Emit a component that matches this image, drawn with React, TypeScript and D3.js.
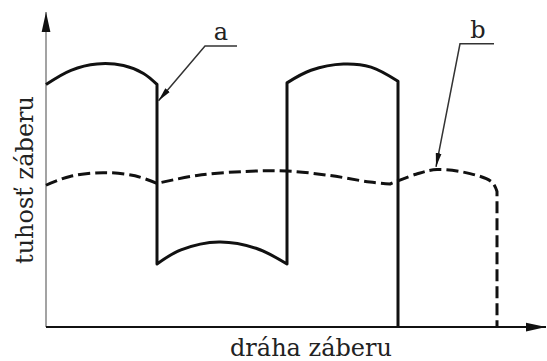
import React from "react";
import * as d3 from "d3";

type P = [number, number];

// Solid curve "a" (x: dráha záberu, y: tuhosť záberu), arbitrary units 0..100
const curveA_arc1: P[] = [[0, 77], [5, 81.5], [10.2, 83.5], [15.5, 83], [19.5, 80.5], [22.2, 77]];
const curveA_arc2: P[] = [[22.2, 20], [27, 24.5], [34.6, 27], [42, 25], [48.2, 20]];
const curveA_arc3: P[] = [[48.2, 77.5], [53, 81.5], [59.5, 83.5], [65, 82.5], [70.4, 78]];
const curveA_end: P[] = [[70.4, 78], [70.4, 0]];

// Dashed curve "b"
const curveB_arc1: P[] = [[0, 45], [4.8, 47.8], [11.4, 49], [17.8, 48], [22.2, 45.6]];
const curveB_arc2: P[] = [[22.2, 45.6], [30.2, 48.1], [40, 49.4], [48.2, 49.5], [56.8, 48.1], [64.8, 46], [68.8, 45.4]];
const curveB_arc3: P[] = [[68.8, 45.4], [74, 48.5], [78.2, 50], [84.8, 48.7], [89.2, 46], [90.2, 43]];
const curveB_end: P[] = [[90.2, 43], [90.2, 0]];

// Annotations
const leaderA: P[] = [[38.2, 89.2], [31.8, 89.2], [22.5, 71.8]];
const leaderB: P[] = [[89.6, 89.9], [82.8, 89.9], [78, 50.8]];
const labelA = { text: "a", pos: [35, 91.1] as P };
const labelB = { text: "b", pos: [86.4, 91.8] as P };
const xLabel = "dráha záberu";
const yLabel = "tuhosť záberu";

const W = 547;
const H = 361;

export default function App() {
  const x = d3.scaleLinear().domain([0, 100]).range([46, 546]);
  const y = d3.scaleLinear().domain([0, 100]).range([327, 12]);

  const curved = d3
    .line<P>()
    .x((d) => x(d[0]))
    .y((d) => y(d[1]))
    .curve(d3.curveCatmullRom.alpha(0.5));
  const straight = d3
    .line<P>()
    .x((d) => x(d[0]))
    .y((d) => y(d[1]));

  const join = (parts: { pts: P[]; c: boolean }[]) =>
    parts
      .map((p, i) => {
        const s = (p.c ? curved : straight)(p.pts) || "";
        return i === 0 ? s : s.replace(/^M/, "L");
      })
      .join("");

  const pathA = join([
    { pts: curveA_arc1, c: true },
    { pts: curveA_arc2, c: true },
    { pts: curveA_arc3, c: true },
    { pts: curveA_end, c: false },
  ]);
  const pathB = join([
    { pts: curveB_arc1, c: true },
    { pts: curveB_arc2, c: true },
    { pts: curveB_arc3, c: true },
    { pts: curveB_end, c: false },
  ]);

  const font = "'DejaVu Serif', serif";
  const ink = "#111";

  return (
    <svg
      width={W}
      height={H}
      style={{ position: "absolute", left: 0, top: 0, background: "#fff" }}
    >
      <defs>
        <marker id="axArrow" markerUnits="userSpaceOnUse" markerWidth="20" markerHeight="12" refX="16" refY="4" orient="auto" viewBox="0 0 16 8">
          <path d="M0,0.5 L16,4 L0,7.5 Z" fill={ink} />
        </marker>
        <marker id="ldArrow" markerUnits="userSpaceOnUse" markerWidth="14" markerHeight="8" refX="12" refY="3" orient="auto" viewBox="0 0 12 6">
          <path d="M0,0.5 L12,3 L0,5.5 Z" fill={ink} />
        </marker>
      </defs>

      {/* axes */}
      <line x1={x(0)} y1={y(0)} x2={x(0)} y2={y(100)} stroke="#666" strokeWidth={1.2} markerEnd="url(#axArrow)" />
      <line x1={x(0)} y1={y(0)} x2={x(100)} y2={y(0)} stroke={ink} strokeWidth={2.2} markerEnd="url(#axArrow)" />

      {/* curves */}
      <path d={pathB} fill="none" stroke={ink} strokeWidth={3} strokeDasharray="12 5" strokeLinejoin="round" />
      <path d={pathA} fill="none" stroke={ink} strokeWidth={3} strokeLinejoin="round" />

      {/* leaders */}
      <path d={straight(leaderA) || ""} fill="none" stroke="#333" strokeWidth={1.5} markerEnd="url(#ldArrow)" />
      <path d={straight(leaderB) || ""} fill="none" stroke="#333" strokeWidth={1.5} markerEnd="url(#ldArrow)" />

      <text x={x(labelA.pos[0])} y={y(labelA.pos[1])} textAnchor="middle" fontFamily={font} fontSize={24} fill="#222">
        {labelA.text}
      </text>
      <text x={x(labelB.pos[0])} y={y(labelB.pos[1])} textAnchor="middle" fontFamily={font} fontSize={24} fill="#222">
        {labelB.text}
      </text>

      <text x={311} y={356} textAnchor="middle" fontFamily={font} fontSize={24} fill="#222">
        {xLabel}
      </text>
      <text
        transform={`translate(33,180) rotate(-90)`}
        textAnchor="middle"
        fontFamily={font}
        fontSize={24}
        fill="#222"
      >
        {yLabel}
      </text>
    </svg>
  );
}
